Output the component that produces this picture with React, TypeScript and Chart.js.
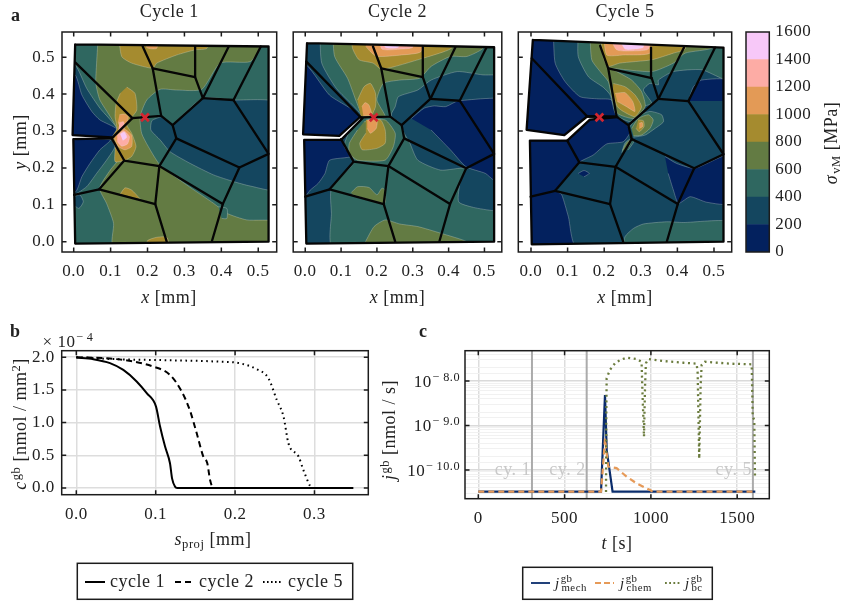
import React, { useEffect, useRef } from 'react';
import { Chart, registerables } from 'chart.js';

/* ---------- fonts & colours ---------- */
const SERIF = "'Liberation Serif'";
const INK = '#222222';
const levels = [0, 200, 400, 600, 800, 1000, 1200, 1400];
const levelColors = ['#03215e', '#14465f', '#2f6760', '#637b43', '#a58b2f', '#e39a56', '#fdaca5', '#f7c8f8'];
const colorOf = (lv: number) => levelColors[levels.indexOf(lv)];

/* ---------- panel a : traced geometry, all in micrometres ---------- */
const outline1 = [4,535, 528,529, 528,0, 4,-5, -1,278, 103,280, 103,283, -3,289];
const outline2 = [5,538, 527,527, 527,0, 3,-5, -3,276, 100,276, 160,335, 153,338, 95,287, -6,291];
const outline3 = [5,547, 526,526, 526,0, 2,-7, -3,274, 99,274, 161,331, 236,338, 154,340, 91,289, -12,303];

const grains1 = [
  [4,486,159,335,237,341,214,470,187,529],[214,470,329,446,329,529],[329,446,350,389,420,529],
  [350,389,433,384,507,529],[433,384,528,238,449,201,278,280,268,316,237,341],[268,316,350,389],
  [278,280,232,205,137,220,103,280,159,335],[137,220,69,142,1,127],[69,142,221,102,232,205],
  [221,102,252,0],[232,205,404,102,449,201],[404,102,374,0],
];
const grains2 = [
  [3,488,155,337,237,339,212,470,189,529],[212,470,328,446,328,527],[328,446,349,387,419,527],
  [349,387,431,382,506,527],[431,382,527,238,449,199,276,280,269,316,237,339],[269,316,349,387],
  [276,280,232,205,135,217,100,278],[135,217,68,142,0,122],[68,142,219,102,232,205],
  [219,102,251,0],[232,205,404,102,449,199],[404,102,374,0],
];
const grains3 = [
  [2,497,154,339,234,339,211,470,189,531],[211,470,330,443,328,526],[330,443,348,387,418,526],
  [348,387,430,381,503,526],[430,381,526,237,446,199,275,278,266,316,234,339],[266,316,348,387],
  [275,278,231,203,132,215,99,274],[132,215,66,138,-1,122],[66,138,216,102,231,203],
  [216,102,252,0],[231,203,401,102,446,199],[401,102,371,0],
];
const crackTip1 = [193, 337];
const crackTip2 = [191, 337];
const crackTip3 = [187, 337];

type Region = [number, number[]];
const stress1: Region[] = [
  [400, outline1],
  [600, [67,565,62,484,60,429,71,384,112,316,106,283,108,271,126,231,99,194,70,145,89,104,108,50,108,-14,551,-14,551,54,469,59,415,77,379,104,306,154,234,208,202,258,184,294,180,339,198,384,234,413,279,411,347,413,397,484,478,488,507,529,507,565]],
  [400, [392,95,415,90,415,63,401,63]],
  [200, [237,339,212,328,209,303,234,276,261,244,316,212,379,181,433,163,478,151,551,142,551,375,433,384,350,389,270,319]],
  [200, [1,122,17,127,26,108,14,90,1,99]],
  [200, [-28,479,4,479,35,416,71,362,117,307,103,283,-28,283]],
  [0, [-28,452,4,452,22,398,49,353,71,330,117,305,103,283,-28,283]],
  [200, [-28,278,103,278,112,258,89,221,62,185,35,149,1,127,-28,122]],
  [0, [-28,276,99,276,71,249,44,212,22,176,6,136,-28,131]],
  [800, [121,565,130,502,157,484,214,470,225,484,279,506,329,520,361,524,365,565]],
  [1000, [193,565,198,526,225,524,230,565]],
  [800, [144,419,166,402,171,357,157,337,143,319,157,294,169,258,157,231,137,220,112,217,112,258,103,280,117,307,112,339,115,375,126,402]],
  [1000, [124,344,137,346,148,339,143,321,126,312,120,325]],
  [1000, [117,298,135,307,157,289,157,258,139,249,121,258,110,280]],
  [1200, [124,323,135,325,137,307,121,303]],
  [1200, [118,289,135,301,151,285,146,265,130,259,118,271]],
  [1400, [126,292,137,297,144,283,133,274]],
  [800, [126,129,139,146,157,140,180,116]],
  [800, [198,-14,200,3,225,12,252,12,261,-14]],
];
const stress2: Region[] = [
  [200, outline2],
  [0, [-32,477,5,477,68,397,155,339,105,283,-32,285]],
  [0, [-32,274,100,276,114,253,128,231,68,221,55,185,36,158,14,140,0,124,-32,124]],
  [0, [296,334,332,362,360,368,392,366,428,382,588,380,588,172,527,167,503,185,449,203,405,249,351,303]],
  [400, [41,565,46,484,87,415,158,339,123,298,109,258,137,217,73,145,73,77,77,-14,588,-14,588,86,527,84,469,93,428,108,433,167,446,199,378,194,314,221,292,267,276,294,264,321,241,339,241,348,251,366,260,393,314,411,351,438,424,461,496,452,527,452,588,452,588,565]],
  [600, [77,565,82,502,118,443,141,384,161,339,187,334,223,339,200,384,218,429,264,438,319,443,351,475,405,502,451,502,496,524,515,565]],
  [600, [164,325,223,330,251,294,246,258,223,221,146,221,123,240,123,267,146,303]],
  [600, [168,0,192,41,223,59,264,48,314,41,378,23,451,0,451,-14,168,-14]],
  [600, [128,133,146,149,178,147,200,127,214,145,223,140,221,104,132,127]],
  [800, [128,565,132,524,150,493,189,484,214,467,328,497,387,515,410,526,415,565]],
  [800, [146,384,164,420,182,429,196,402,196,366,182,339,155,339]],
  [800, [169,330,210,330,223,303,223,267,200,253,159,249,152,267,169,294]],
  [1000, [158,366,167,377,178,370,185,344,162,341]],
  [1000, [173,330,200,330,198,307,182,294,173,307]],
  [1000, [169,529,182,515,200,502,269,506,323,515,328,565,169,565]],
  [1200, [205,565,214,522,269,522,300,527,300,565]],
  [1400, [223,565,223,527,260,527,260,565]],
];
const stress3: Region[] = [
  [0, outline3],
  [200, [61,565,66,484,93,434,134,393,184,387,220,384,234,339,257,325,271,298,252,271,207,265,170,235,132,215,70,140,84,127,102,68,125,-14,580,-14,580,565]],
  [0, [430,381,444,420,466,438,544,438,544,381]],
  [0, [366,231,398,212,448,199,544,235,544,104,480,107,435,122,403,104,389,140,375,185]],
  [0, [129,185,145,193,159,185,145,176]],
  [0, [257,339,275,337,271,328,260,332]],
  [400, [129,565,129,502,157,447,198,418,216,398,232,344,271,325,284,339,307,366,330,375,307,411,325,429,348,425,348,438,389,461,466,466,526,441,562,441,562,565]],
  [400, [271,312,289,339,325,353,357,344,362,325,339,307,312,289,280,283]],
  [400, [248,241,257,268,275,280,281,271,266,249]],
  [400, [252,-14,257,14,280,36,307,48,371,54,416,52,544,54,544,-14]],
  [600, [161,565,166,493,189,461,211,434,220,393,236,348,281,334,312,366,302,407,275,438,234,461,216,470,330,461,389,484,421,511,498,526,498,565]],
  [600, [275,307,293,334,321,344,334,330,325,307,302,289,280,287]],
  [600, [250,247,260,267,275,278,269,260,257,249]],
  [800, [189,565,198,497,211,475,243,484,330,493,389,511,421,522,425,565]],
  [800, [225,429,257,420,284,398,302,366,284,339,252,353,236,366,223,402]],
  [800, [293,330,307,328,309,312,296,298,287,307]],
  [1000, [198,565,207,506,252,506,325,511,330,565]],
  [1000, [230,402,257,404,278,380,284,353,261,366,236,380]],
  [1000, [296,321,304,323,305,312,296,307]],
  [1200, [211,565,234,520,280,517,321,522,325,565]],
  [1400, [234,565,257,522,284,522,307,527,307,565]],
];

/* ---------- panel b ---------- */
const sCycle1 = [0,0.0214,0.0424,0.0592,0.076,0.0887,0.1004,0.1055,0.1118,0.118,0.1206,0.1244,0.127,0.349];
const cCycle1 = [1.995,1.97,1.91,1.806,1.63,1.45,1.245,0.94,0.633,0.378,0.148,0.02,0,0];
const sCycle2 = [0,0.0424,0.0718,0.097,0.118,0.1328,0.143,0.1517,0.16,0.165,0.1685,0.1727,0.349];
const cCycle2 = [2.0,1.98,1.934,1.857,1.73,1.475,1.19,0.837,0.48,0.378,0.122,0,0];
const sCycle5 = [0,0.0508,0.1139,0.177,0.206,0.2273,0.242,0.2525,0.261,0.2672,0.28,0.286,0.2945,0.2966,0.349];
const cCycle5 = [2.0,1.97,1.954,1.934,1.908,1.816,1.679,1.347,1.092,0.684,0.48,0.276,0.03,0,0];

/* ---------- panel c ---------- */
const tMech = [0,711,734,744,778,1605];
const jMech = [3.25e-11,3.25e-11,4.84e-9,2.8e-10,3.25e-11,3.25e-11];
const tChem = [0,711,724,734,744,753,801,859,917,998,1010,1605];
const jChem = [3.25e-11,3.25e-11,1.4e-10,5.1e-10,2.3e-10,1.19e-10,1.1e-10,7.1e-11,5e-11,3.5e-11,3.25e-11,3.25e-11];
const tBc = [740,741.6,743.6,763,792,821,859,917,946,950,960,966,971,985,1072,1188,1265,1271,1280,1288,1294,1313,1458,1584,1590,1599,1603];
const jBc = [3.2e-11,1.33e-9,1.15e-8,1.78e-8,2.5e-8,2.95e-8,3.34e-8,3.1e-8,2.7e-8,7.5e-9,5.6e-10,7.5e-9,2.5e-8,3.1e-8,2.8e-8,2.57e-8,2.45e-8,1.5e-8,1.8e-10,7.4e-9,2.3e-8,2.7e-8,2.45e-8,2.37e-8,1.58e-9,1.33e-9,7e-11];
const cycleEnds = [311, 628, 1591];
const cycleNames = ['cy. 1', 'cy. 2', 'cy. 5'];
const xTicksC = [0, 500, 1000, 1500];
const yTickExp = [-8, -9, -10];
const yTickSup = ['\u2212\u20098.0', '\u2212\u20099.0', '\u2212\u200910.0'];

/* ---------- helpers ---------- */
const pts = (flat: number[], k = 1000) => {
  const out: { x: number; y: number }[] = [];
  for (let i = 0; i < flat.length; i += 2) out.push({ x: flat[i] / k, y: flat[i + 1] / k });
  return out;
};
const zip = (xs: number[], ys: number[]) => xs.map((x, i) => ({ x, y: ys[i] }));

type Run = { t: string; i?: boolean; b?: boolean; s?: number; dy?: number; dx?: number };
type Txt = { x: number; y: number; runs: Run[]; size?: number; angle?: number; align?: 'left' | 'center' | 'right'; color?: string };
const SPACING = '0.5px';
const TICK_SIZE = 17;
const LABEL_SIZE = 18;

function drawRuns(ctx: CanvasRenderingContext2D, tx: Txt) {
  const size = tx.size ?? 16;
  const font = (r: Run) => `${r.b ? 'bold ' : ''}${r.i ? 'italic ' : ''}${size * (r.s ?? 1)}px ${SERIF}`;
  ctx.save();
  (ctx as any).letterSpacing = SPACING;
  let w = 0;
  const ws = tx.runs.map((r) => {
    ctx.font = font(r);
    const m = ctx.measureText(r.t).width + (r.dx ?? 0);
    w += m;
    return m;
  });
  ctx.translate(tx.x, tx.y);
  ctx.rotate(((tx.angle ?? 0) * Math.PI) / 180);
  let cur = tx.align === 'left' ? 0 : tx.align === 'right' ? -w : -w / 2;
  ctx.textAlign = 'left';
  ctx.textBaseline = 'alphabetic';
  ctx.fillStyle = tx.color ?? INK;
  tx.runs.forEach((r, k) => {
    ctx.font = font(r);
    ctx.fillText(r.t, cur + (r.dx ?? 0), r.dy ?? 0);
    cur += ws[k];
  });
  ctx.restore();
}

type LegendRow = { x0: number; x1: number; textX: number; color: string; dash: number[]; runs: Run[] };
type Spec = {
  box: [number, number, number, number];
  area: [number, number, number, number];
  title?: string;
  type?: 'bar' | 'line';
  datasets: any[];
  x: any;
  y: any;
  ticks?: boolean;
  texts?: Txt[] | ((c: any) => Txt[]);
  legend?: { rect: [number, number, number, number]; y: number; size: number; lineWidth: number; rows: LegendRow[] };
};

/* Outline clip: registered ahead of the filler so that contour fills are cut to the specimen. */
const clipToOutline = {
  id: 'clipToOutline',
  beforeDatasetDraw(chart: any, args: any) {
    const ds = chart.data.datasets[args.index];
    if (!ds.outlinePts) return;
    const { ctx, scales } = chart;
    ctx.save();
    ctx.beginPath();
    ds.outlinePts.forEach((p: any, i: number) => {
      const px = scales.x.getPixelForValue(p.x);
      const py = scales.y.getPixelForValue(p.y);
      if (i) ctx.lineTo(px, py);
      else ctx.moveTo(px, py);
    });
    ctx.closePath();
    ctx.clip();
  },
  afterDatasetDraw(chart: any, args: any) {
    if (chart.data.datasets[args.index].outlinePts) chart.ctx.restore();
  },
};
Chart.register(clipToOutline);
Chart.register(...registerables);

const isDecade = (v: number) => Math.abs(Math.log10(v) - Math.round(Math.log10(v))) < 1e-6;

function makeDecor(spec: Spec) {
  return {
    id: 'decor',
    beforeDraw(chart: any) {
      chart.ctx.letterSpacing = SPACING;
    },
    afterDatasetsDraw(chart: any) {
      const { ctx, chartArea: a, scales } = chart;
      ctx.save();
      ctx.strokeStyle = '#1c1c1c';
      ctx.lineWidth = 1.5;
      ctx.strokeRect(a.left, a.top, a.right - a.left, a.bottom - a.top);
      if (spec.ticks !== false) {
        const LEN = 4.5;
        ctx.beginPath();
        scales.x.ticks.forEach((t: any) => {
          const p = scales.x.getPixelForValue(t.value);
          ctx.moveTo(p, a.bottom); ctx.lineTo(p, a.bottom - LEN);
          ctx.moveTo(p, a.top); ctx.lineTo(p, a.top + LEN);
        });
        scales.y.ticks.forEach((t: any) => {
          if (scales.y.type === 'logarithmic' && !isDecade(t.value)) return;
          const p = scales.y.getPixelForValue(t.value);
          ctx.moveTo(a.left, p); ctx.lineTo(a.left + LEN, p);
          ctx.moveTo(a.right, p); ctx.lineTo(a.right - LEN, p);
        });
        ctx.stroke();
      }
      ctx.restore();
    },
    afterDraw(chart: any) {
      const { ctx } = chart;
      ctx.save();
      ctx.translate(-spec.box[0], -spec.box[1]);
      const list = typeof spec.texts === 'function' ? spec.texts(chart) : spec.texts ?? [];
      list.forEach((t) => drawRuns(ctx, t));
      if (spec.legend) {
        const L = spec.legend;
        ctx.strokeStyle = '#1c1c1c';
        ctx.lineWidth = 1.5;
        ctx.strokeRect(L.rect[0], L.rect[1], L.rect[2] - L.rect[0], L.rect[3] - L.rect[1]);
        L.rows.forEach((r) => {
          ctx.save();
          ctx.strokeStyle = r.color;
          ctx.lineWidth = L.lineWidth;
          ctx.setLineDash(r.dash);
          ctx.beginPath();
          ctx.moveTo(r.x0, L.y);
          ctx.lineTo(r.x1, L.y);
          ctx.stroke();
          ctx.restore();
          drawRuns(ctx, { x: r.textX, y: L.y + 5, runs: r.runs, size: L.size, align: 'left' });
        });
      }
      ctx.restore();
    },
  };
}

function ChartBox({ spec }: { spec: Spec }) {
  const ref = useRef<HTMLCanvasElement>(null);
  useEffect(() => {
    const [bx, by, bw, bh] = spec.box;
    const [l, t, r, b] = spec.area;
    const leftW = spec.y.position === 'right' ? 0 : l - bx;
    const rightW = bx + bw - r;
    const bottomH = by + bh - b;
    const chart = new Chart(ref.current as HTMLCanvasElement, {
      type: (spec.type ?? 'line') as any,
      data: { labels: spec.type === 'bar' ? ['vM'] : undefined, datasets: spec.datasets },
      options: {
        responsive: false,
        animation: false,
        devicePixelRatio: 1,
        layout: {
          padding: {
            left: spec.y.position === 'right' ? l - bx : 0,
            right: spec.y.position === 'right' ? 0 : rightW,
            top: spec.title ? 0 : t - by,
            bottom: 0,
          },
        },
        plugins: {
          legend: { display: false },
          tooltip: { enabled: false },
          title: spec.title
            ? {
                display: true,
                text: spec.title,
                fullSize: false,
                color: INK,
                font: { family: SERIF, size: 18, weight: 'normal', lineHeight: 1.2 },
                padding: { top: 1, bottom: t - by - 21.6 - 1 },
              }
            : { display: false },
        },
        scales: {
          x: { ...spec.x, afterFit: (s: any) => { s.height = bottomH; } },
          y: {
            ...spec.y,
            afterFit: (s: any) => { s.width = spec.y.position === 'right' ? rightW : leftW; },
          },
        },
      } as any,
      plugins: [makeDecor(spec)] as any,
    });
    return () => chart.destroy();
  }, [spec]);
  return (
    <canvas
      ref={ref}
      width={spec.box[2]}
      height={spec.box[3]}
      style={{ position: 'absolute', left: spec.box[0], top: spec.box[1], width: spec.box[2], height: spec.box[3] }}
    />
  );
}

/* ---------- dataset builders ---------- */
function contourPanel(outline: number[], regions: Region[], grains: number[][], tip: number[]) {
  const clip = pts(outline);
  const fills = regions.map(([lv, path], i) => ({
    label: `\u03c3 \u2265 ${lv} MPa`,
    data: pts(path),
    outlinePts: clip,
    fill: 'shape',
    backgroundColor: colorOf(lv),
    borderColor: i === 0 ? 'rgba(0,0,0,0)' : 'rgba(235,235,225,0.4)',
    borderWidth: i === 0 ? 0 : 0.7,
    pointRadius: 0,
    tension: i === 0 ? 0 : 0.2,
  }));
  const lines = [...grains, [...outline, outline[0], outline[1]]].map((g, i) => ({
    label: `grain boundary ${i + 1}`,
    data: pts(g),
    borderColor: '#050505',
    borderWidth: 2.3,
    borderJoinStyle: 'round',
    borderCapStyle: 'round',
    fill: false,
    pointRadius: 0,
    tension: 0,
    clip: false,
  }));
  const mark = {
    label: 'crack tip',
    data: pts(tip),
    showLine: false,
    pointStyle: 'crossRot',
    pointRadius: 5.5,
    pointBorderWidth: 2.7,
    borderColor: '#d32630',
    backgroundColor: '#d32630',
  };
  return [...fills, ...lines, mark].reverse();
}

const AY = { min: -0.0279, max: 0.5683 };
const tick01 = {
  stepSize: 0.1,
  includeBounds: false,
  autoSkip: false,
  maxRotation: 0,
  color: INK,
  font: { family: SERIF, size: TICK_SIZE },
  callback: (v: number) => v.toFixed(1),
};
const xA = (min: number, max: number) => ({ type: 'linear', min, max, grid: { display: false, drawTicks: false }, border: { display: false }, ticks: { ...tick01, padding: 9 } });
const yA = (labels: boolean) => ({
  type: 'linear', ...AY, grid: { display: false, drawTicks: false }, border: { display: false },
  ticks: { ...tick01, padding: 7, display: labels },
});
const mmTitle = (a: string): Run[] => [{ t: a, i: true }, { t: ' [mm]' }];

const curve = { borderColor: '#000', borderWidth: 2, pointRadius: 0, fill: false, cubicInterpolationMode: 'monotone' };

const specs: Spec[] = [
  {
    box: [0, 0, 285, 310], area: [62, 32, 276.7, 252], title: 'Cycle 1',
    datasets: contourPanel(outline1, stress1, grains1, crackTip1),
    x: xA(-0.0317, 0.55), y: yA(true),
    texts: [
      { x: 11, y: 21, runs: [{ t: 'a', b: true }], size: 18, align: 'left' },
      { x: 169, y: 303, runs: mmTitle('x'), size: LABEL_SIZE },
      { x: 26, y: 142, runs: mmTitle('y'), size: LABEL_SIZE, angle: -90 },
    ],
  },
  {
    box: [285, 0, 225, 310], area: [291, 32, 504, 252], title: 'Cycle 2',
    datasets: contourPanel(outline2, stress2, grains2, crackTip2),
    x: xA(-0.0336, 0.5484), y: yA(false),
    texts: [{ x: 397.5, y: 303, runs: mmTitle('x'), size: LABEL_SIZE }],
  },
  {
    box: [510, 0, 230, 310], area: [518.3, 32, 731.7, 252], title: 'Cycle 5',
    datasets: contourPanel(outline3, stress3, grains3, crackTip3),
    x: xA(-0.0347, 0.5484), y: yA(false),
    texts: [{ x: 625, y: 303, runs: mmTitle('x'), size: LABEL_SIZE }],
  },
  {
    box: [740, 0, 102, 310], area: [746, 32, 769.3, 252], type: 'bar', ticks: false,
    datasets: levels.map((lv, i) => ({
      label: `${lv}`, data: [200], backgroundColor: levelColors[i], stack: 'c', barPercentage: 1, categoryPercentage: 1, borderWidth: 0,
    })),
    x: { display: false, stacked: true },
    y: {
      position: 'right', stacked: true, min: 0, max: 1600, grid: { display: false, drawTicks: false }, border: { display: false },
      ticks: { stepSize: 200, color: INK, padding: 6, font: { family: SERIF, size: TICK_SIZE }, autoSkip: false, callback: (v: number) => String(v) },
    },
    texts: [{
      x: 837, y: 143, size: LABEL_SIZE, angle: -90,
      runs: [{ t: '\u03c3', i: true }, { t: 'vM', s: 0.7, dy: 3, dx: 1 }, { t: ' [MPa]' }],
    }],
  },
  {
    box: [0, 320, 376, 282], area: [61.7, 350.7, 368.3, 494.7],
    datasets: [
      { ...curve, label: 'cycle 1', data: zip(sCycle1, cCycle1) },
      { ...curve, label: 'cycle 2', data: zip(sCycle2, cCycle2), borderDash: [6, 4] },
      { ...curve, label: 'cycle 5', data: zip(sCycle5, cCycle5), borderDash: [1.6, 3.6] },
    ],
    x: {
      type: 'linear', min: -0.0184, max: 0.3678,
      grid: { color: '#dddddd', lineWidth: 1.5, drawTicks: false }, border: { display: false },
      ticks: { ...tick01, padding: 10 },
    },
    y: {
      type: 'linear', min: -0.1025, max: 2.1,
      grid: { color: '#dddddd', lineWidth: 1.5, drawTicks: false }, border: { display: false },
      ticks: { ...tick01, stepSize: 0.5, padding: 7 },
    },
    texts: [
      { x: 10, y: 337, runs: [{ t: 'b', b: true }], size: 18, align: 'left' },
      { x: 68, y: 347, size: TICK_SIZE, runs: [{ t: '\u00d7 10' }, { t: '\u2212\u20094', s: 0.72, dy: -6, dx: 1 }] },
      { x: 213, y: 545, size: LABEL_SIZE, runs: [{ t: 's', i: true }, { t: 'proj', s: 0.7, dy: 3 }, { t: ' [mm]' }] },
      {
        x: 26, y: 424, size: LABEL_SIZE, angle: -90,
        runs: [{ t: 'c', i: true }, { t: 'gb', s: 0.7, dy: -6, dx: 1 }, { t: ' [nmol / mm' }, { t: '2', s: 0.7, dy: -6 }, { t: ']' }],
      },
    ],
    legend: {
      rect: [77.3, 563.3, 352.7, 599.3], y: 582, size: 18, lineWidth: 2,
      rows: [
        { x0: 85, x1: 105, textX: 110, color: '#000', dash: [], runs: [{ t: 'cycle 1' }] },
        { x0: 175, x1: 194, textX: 199, color: '#000', dash: [6, 4], runs: [{ t: 'cycle 2' }] },
        { x0: 263, x1: 283, textX: 288, color: '#000', dash: [1.6, 2.4], runs: [{ t: 'cycle 5' }] },
      ],
    },
  },
  {
    box: [376, 320, 466, 282], area: [465, 350.7, 769.3, 498.7],
    datasets: [
      ...cycleEnds.map((t, i) => ({
        label: cycleNames[i], data: [{ x: t, y: 2e-11 }, { x: t, y: 6e-8 }], borderColor: '#ababab', borderWidth: 2, pointRadius: 0, fill: false,
      })),
      { label: 'j mech', data: zip(tMech, jMech), borderColor: '#0a2c6b', borderWidth: 2.2, pointRadius: 0, fill: false },
      { label: 'j chem', data: zip(tChem, jChem), borderColor: '#e69a58', borderWidth: 2.2, borderDash: [6, 4], pointRadius: 0, fill: false },
      { label: 'j bc', data: zip(tBc, jBc), borderColor: '#6a7b3d', borderWidth: 2.3, borderDash: [2, 3.6], pointRadius: 0, fill: false },
    ].reverse(),
    x: {
      type: 'linear', min: -77, max: 1686,
      grid: { color: '#dddddd', lineWidth: 1.5, drawTicks: false }, border: { display: false },
      afterBuildTicks: (s: any) => { s.ticks = xTicksC.map((value) => ({ value })); },
      ticks: { color: INK, padding: 10, autoSkip: false, maxRotation: 0, font: { family: SERIF, size: TICK_SIZE }, callback: (v: number) => String(v) },
    },
    y: {
      type: 'logarithmic', min: 2.26e-11, max: 4.79e-8,
      grid: {
        drawTicks: false,
        color: (c: any) => (isDecade(c.tick.value) ? '#dadada' : '#f1f1f1'),
        lineWidth: (c: any) => (isDecade(c.tick.value) ? 1.5 : 1),
      },
      border: { display: false },
      ticks: { display: false },
    },
    ticks: true,
    texts: (chart: any) => {
      const sy = chart.scales.y;
      const sx = chart.scales.x;
      const ox = 376;
      const oy = 320;
      const yv = oy + sy.getPixelForValue(1e-10);
      return [
        { x: 419, y: 337, runs: [{ t: 'c', b: true }], size: 18, align: 'left' },
        ...yTickExp.map((e, i) => ({
          x: 460, y: oy + sy.getPixelForValue(Math.pow(10, e)) + 6, align: 'right' as const, size: TICK_SIZE,
          runs: [{ t: '10' }, { t: yTickSup[i], s: 0.72, dy: -6, dx: 1 }],
        })),
        ...cycleNames.map((n, i) => ({
          x: ox + sx.getPixelForValue(cycleEnds[i]) - 1, y: yv + 5, align: 'right' as const, size: LABEL_SIZE, color: '#c9c9c9', runs: [{ t: n }],
        })),
        { x: 617, y: 549, size: LABEL_SIZE, runs: [{ t: 't', i: true }, { t: ' [s]' }] },
        {
          x: 395, y: 430, size: LABEL_SIZE, angle: -90,
          runs: [{ t: 'j', i: true }, { t: 'gb', s: 0.7, dy: -6, dx: 1 }, { t: ' [nmol / s]' }],
        },
      ];
    },
    legend: {
      rect: [522.7, 567.3, 712.3, 599.3], y: 583, size: 15, lineWidth: 1.8,
      rows: [
        { x0: 531, x1: 550, textX: 555, color: '#0a2c6b', dash: [], runs: [{ t: 'j', i: true }, { t: 'gb', s: 0.72, dy: -6, dx: 1 }, { t: 'mech', s: 0.72, dy: 3, dx: -11 }] },
        { x0: 595, x1: 614, textX: 620, color: '#e69a58', dash: [6, 3], runs: [{ t: 'j', i: true }, { t: 'gb', s: 0.72, dy: -6, dx: 1 }, { t: 'chem', s: 0.72, dy: 3, dx: -11 }] },
        { x0: 665, x1: 680, textX: 685, color: '#6a7b3d', dash: [1.8, 2.4], runs: [{ t: 'j', i: true }, { t: 'gb', s: 0.72, dy: -6, dx: 1 }, { t: 'bc', s: 0.72, dy: 3, dx: -11 }] },
      ],
    },
  },
];

export default function App() {
  return (
    <div style={{ position: 'absolute', left: 0, top: 0, width: 842, height: 602, background: '#fff', overflow: 'hidden' }}>
      {specs.map((s, i) => (
        <ChartBox key={i} spec={s} />
      ))}
    </div>
  );
}
